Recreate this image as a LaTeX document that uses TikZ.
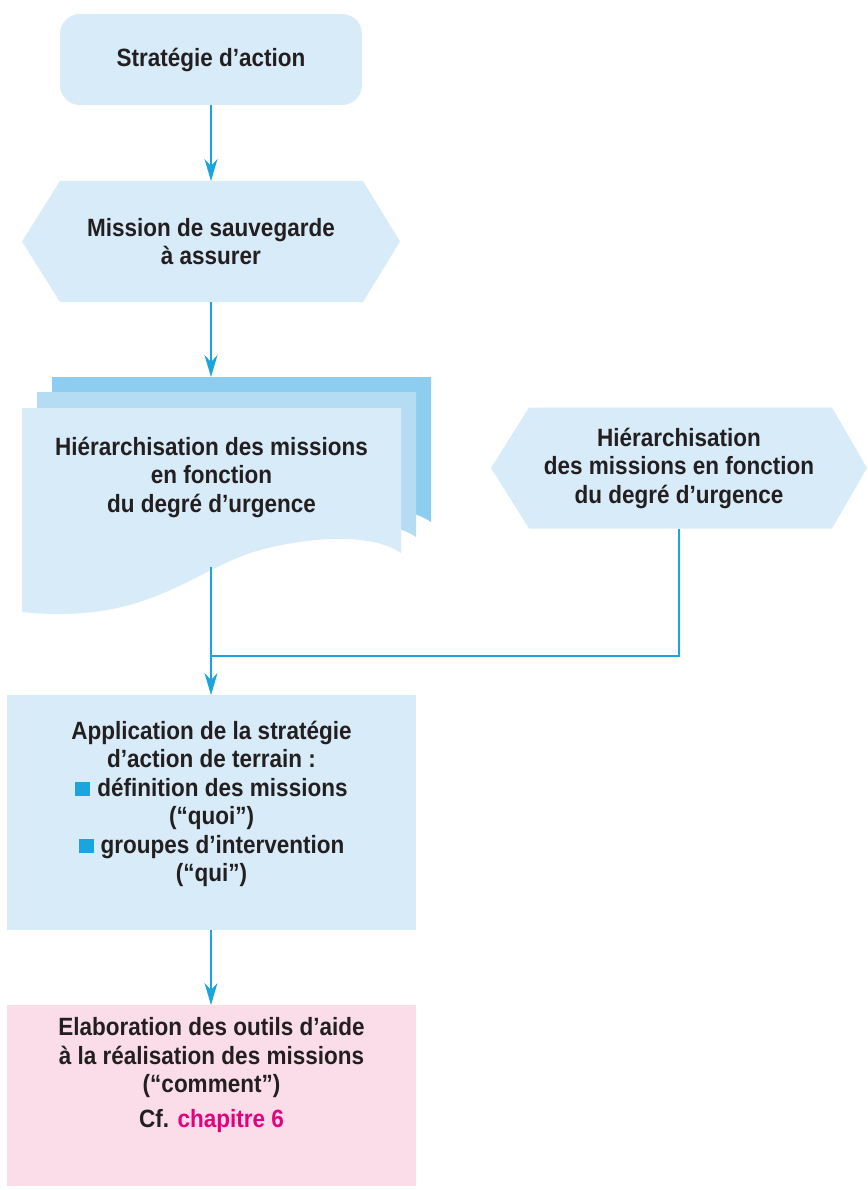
\documentclass[tikz,border=0pt]{standalone}
\usepackage{fontspec}
\setmainfont[FakeStretch=0.9]{Liberation Sans}
\usetikzlibrary{arrows.meta,backgrounds}
\definecolor{boxblue}{HTML}{D8EBF8}
\definecolor{midblue}{HTML}{B4DCF3}
\definecolor{backblue}{HTML}{8DCDF0}
\definecolor{linkblue}{HTML}{1AA5DF}
\definecolor{boxpink}{HTML}{FADDE9}
\definecolor{hotpink}{HTML}{E5007D}
\definecolor{ink}{HTML}{231F20}
\newcommand{\bsq}{\textcolor{linkblue}{\rule{15pt}{14pt}}\hspace{7pt}}
\newcommand{\docshape}[1]{\fill[#1] (22,408) -- (401,408) -- (401,553) .. controls (380,538) and (330,532) .. (260,550) .. controls (190,570) and (150,625) .. (22,612) -- cycle;}
\begin{document}
\begin{tikzpicture}[x=1pt,y=-1pt,
  txt/.style={text=ink, align=center, font=\bfseries\fontsize{25}{28.5}\selectfont, inner sep=0pt, outer sep=0pt},
  plainbox/.style={inner sep=0pt, outer sep=0pt},
  link/.style={draw=linkblue, line width=1.2pt},
  arrowlink/.style={link, -{Stealth[length=22pt,width=13pt,inset=7pt]}}
]
\useasboundingbox (0,0) rectangle (867,1190);

% box 1
\node[txt, fill=boxblue, rounded corners=20pt, minimum width=302pt, minimum height=91pt] (strat) at (211,59.5) {Stratégie d’action};

% hexagon 1
\node[txt, minimum width=378pt, minimum height=121pt] (mission) at (211,241.5) {Mission de sauvegarde\\à assurer};

% document stack
\begin{scope}[shift={(30,-31)}]\docshape{backblue}\end{scope}
\begin{scope}[shift={(15,-16)}]\docshape{midblue}\end{scope}
\docshape{boxblue}
\node[txt] (hier) at (211.5,477) {Hiérarchisation des missions\\en fonction\\du degré d’urgence};
\coordinate (hierin) at (211,377);
\coordinate (hierout) at (211,567);

% hexagon 2
\node[txt, minimum width=376pt, minimum height=121pt] (hier2) at (679,468) {Hiérarchisation\\des missions en fonction\\du degré d’urgence};

% application box
\node[plainbox, fill=boxblue, minimum width=409pt, minimum height=235pt] (appbox) at (211.5,812.5) {};
\node[txt] (app) at (211.5,804) {Application de la stratégie\\d’action de terrain :\\\bsq définition des missions\\(“quoi”)\\\bsq groupes d’intervention\\(“qui”)};

% elaboration box
\node[plainbox, fill=boxpink, minimum width=409pt, minimum height=181pt] (elabbox) at (211.5,1095.5) {};
\node[txt] (elab) at (211.5,1075) {Elaboration des outils d’aide\\à la réalisation des missions\\(“comment”)\\[6pt]Cf. \textcolor{hotpink}{chapitre 6}};

\coordinate (join) at (211,656);

\begin{scope}[on background layer]
\fill[boxblue] (mission.west) -- ([xshift=38pt]mission.north west) -- ([xshift=-37pt]mission.north east) -- (mission.east) -- ([xshift=-37pt]mission.south east) -- ([xshift=38pt]mission.south west) -- cycle;
\fill[boxblue] (hier2.west) -- ([xshift=38pt]hier2.north west) -- ([xshift=-35pt]hier2.north east) -- (hier2.east) -- ([xshift=-35pt]hier2.south east) -- ([xshift=38pt]hier2.south west) -- cycle;
\end{scope}

% connectors
\draw[arrowlink] (strat.south) -- (mission.north);
\draw[arrowlink] (mission.south) -- (hierin);
\draw[link] (hier2.south) |- (join);
\draw[arrowlink] (hierout) -- (211,695);
\draw[arrowlink] (appbox.south -| hierout) -- (elabbox.north -| hierout);
\end{tikzpicture}
\end{document}
